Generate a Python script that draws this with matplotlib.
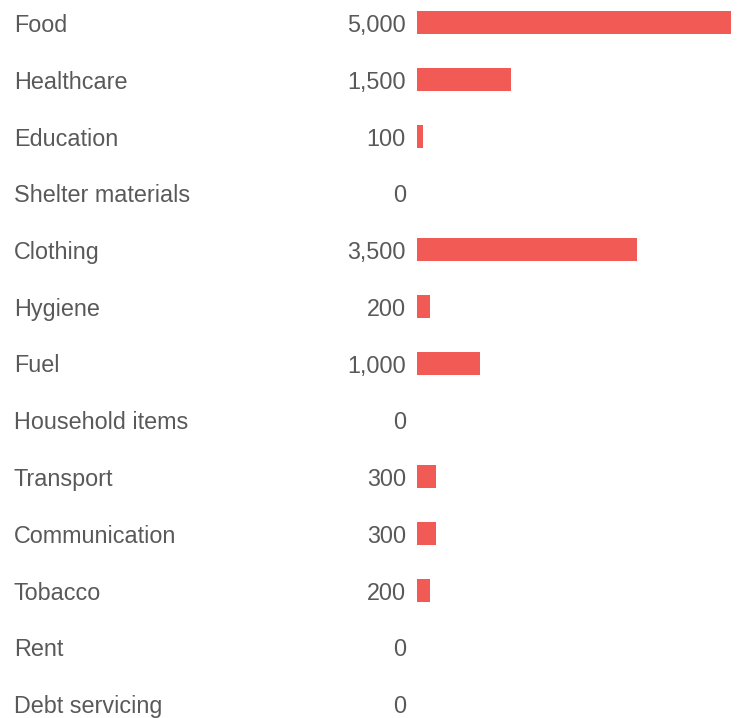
import matplotlib
matplotlib.use("Agg")
import matplotlib.pyplot as plt
from matplotlib.transforms import blended_transform_factory

categories = ["Food", "Healthcare", "Education", "Shelter materials", "Clothing",
              "Hygiene", "Fuel", "Household items", "Transport", "Communication",
              "Tobacco", "Rent", "Debt servicing"]
values = [5000, 1500, 100, 0, 3500, 200, 1000, 0, 300, 300, 200, 0, 0]

W, H = 739, 718
fig = plt.figure(figsize=(W / 100, H / 100), dpi=100)
fig.patch.set_facecolor("white")

fprop = dict(family=["Liberation Sans", "DejaVu Sans"], fontsize=16.8)
text_color = "#595959"
bar_color = "#F25A55"

x0, x1 = 417, 731
ax = fig.add_axes([x0 / W, 0, (W - x0) / W, 1])
ax.set_xlim(0, max(values) * (W - x0) / (x1 - x0))
step = 56.75
first = 22.5
ax.set_ylim((H - first) / step, -first / step)
ax.axis("off")

ypos = list(range(len(categories)))
ax.barh(ypos, values, height=23 / step, color=bar_color, left=0)

tr = blended_transform_factory(fig.transFigure, ax.transData)
base = 9.5 / step
for y, cat, v in zip(ypos, categories, values):
    ax.text(14 / W, y + base, cat, transform=tr, ha="left", va="baseline",
            color=text_color, clip_on=False, **fprop)
    ax.text(406 / W, y + base, f"{v:,}", transform=tr, ha="right", va="baseline",
            color=text_color, clip_on=False, **fprop)

fig.savefig("out.png", dpi=100, facecolor="white")
